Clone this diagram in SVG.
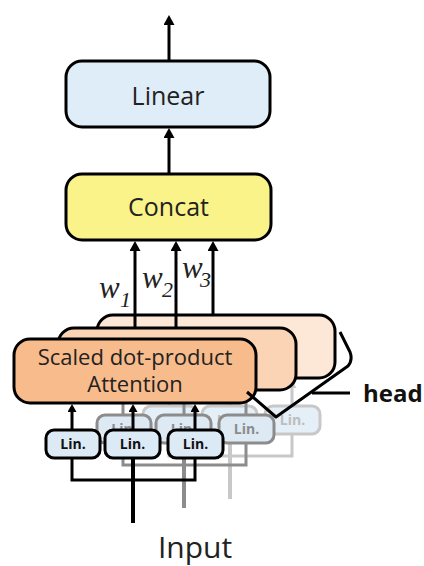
<svg xmlns="http://www.w3.org/2000/svg" width="424" height="566" viewBox="0 0 424 566">
  <style>
    .sans{font-family:"Open Sans","Noto Sans",sans-serif}
    .box{stroke:#000;stroke-width:3}
    .linear{fill:#deedf8}
    .concat{fill:#faf38a}
    .att0{fill:#f8bb8c}
    .att1{fill:#fbd4b5}
    .att2{fill:#fde7d7}
    .big{font-size:25px;fill:#222}
    .att-text{font-size:22px;fill:#222}
    .lin rect{stroke-width:3}
    .lin text{font-size:14px;font-weight:bold;text-anchor:middle}
    .h0 rect{fill:#dceaf6;stroke:#000}
    .h0 text{fill:#111}
    .h1 rect{fill:#dde9f3;stroke:#8c8c8c}
    .h1 text{fill:#8c8c8c}
    .h2 rect{fill:#e5eff7;stroke:#c8c8c8}
    .h2 text{fill:#bdbdbd}
    .wire{fill:none;stroke-width:3}
    .h0 .wire{stroke:#000}
    .h1 .wire{stroke:#8c8c8c}
    .h2 .wire{stroke:#c8c8c8}
    .thick{stroke-width:4}
    .w{font-family:"Liberation Serif","Times New Roman",serif;font-style:italic;fill:#222}
  </style>
  <defs>
    <marker id="ah" markerUnits="userSpaceOnUse" markerWidth="10" markerHeight="11" refX="0" refY="5.5" orient="auto">
      <path d="M0,0 L10,5.5 L0,11 z" fill="#000"/>
    </marker>
    <marker id="ahs" markerUnits="userSpaceOnUse" markerWidth="8" markerHeight="9" refX="0" refY="4.5" orient="auto">
      <path d="M0,0 L8,4.5 L0,9 z" fill="#000"/>
    </marker>
    <marker id="ahs1" markerUnits="userSpaceOnUse" markerWidth="8" markerHeight="9" refX="0" refY="4.5" orient="auto">
      <path d="M0,0 L8,4.5 L0,9 z" fill="#8c8c8c"/>
    </marker>
    <marker id="ahs2" markerUnits="userSpaceOnUse" markerWidth="8" markerHeight="9" refX="0" refY="4.5" orient="auto">
      <path d="M0,0 L8,4.5 L0,9 z" fill="#c8c8c8"/>
    </marker>
  </defs>

  <!-- third head: projections -->
  <g id="head-3-proj" class="h2" transform="translate(97,-24)">
    <path class="wire" d="M72,430 V412" marker-end="url(#ahs2)"/>
    <path class="wire" d="M133,430 V412" marker-end="url(#ahs2)"/>
    <path class="wire" d="M195,430 V412" marker-end="url(#ahs2)"/>
    <path class="wire" d="M72,458 V480 H195 V458"/>
    <path class="wire thick" d="M133,458 V523"/>
    <g class="lin sans">
      <rect x="46" y="430" width="54" height="28" rx="8"/><text x="73" y="449">Lin.</text>
      <rect x="105" y="430" width="55" height="28" rx="8"/><text x="132.5" y="449">Lin.</text>
      <rect x="168" y="430" width="55" height="28" rx="8"/><text x="195.5" y="449">Lin.</text>
    </g>
  </g>
  <!-- third head: attention -->
  <g id="head-3">
    <rect class="box att2" x="97" y="315" width="238" height="63" rx="16"/>
  </g>

  <!-- second head: projections -->
  <g id="head-2-proj" class="h1" transform="translate(51,-15)">
    <path class="wire" d="M72,430 V412" marker-end="url(#ahs1)"/>
    <path class="wire" d="M133,430 V412" marker-end="url(#ahs1)"/>
    <path class="wire" d="M195,430 V412" marker-end="url(#ahs1)"/>
    <path class="wire" d="M72,458 V480 H195 V458"/>
    <path class="wire thick" d="M133,458 V523"/>
    <g class="lin sans">
      <rect x="46" y="430" width="54" height="28" rx="8"/><text x="73" y="449">Lin.</text>
      <rect x="105" y="430" width="55" height="28" rx="8"/><text x="132.5" y="449">Lin.</text>
      <rect x="168" y="430" width="55" height="28" rx="8"/><text x="195.5" y="449">Lin.</text>
    </g>
  </g>
  <!-- second head: attention -->
  <g id="head-2">
    <rect class="box att1" x="58" y="328" width="238" height="62" rx="16"/>
  </g>

  <!-- first head: linear projections -->
  <g class="h0 lin sans">
    <g id="lin-1"><rect x="46" y="430" width="54" height="28" rx="8"/><text x="73" y="449">Lin.</text></g>
    <g id="lin-2"><rect x="105" y="430" width="55" height="28" rx="8"/><text x="132.5" y="449">Lin.</text></g>
    <g id="lin-3"><rect x="168" y="430" width="55" height="28" rx="8"/><text x="195.5" y="449">Lin.</text></g>
  </g>

  <!-- first head: attention -->
  <g id="attention">
    <rect class="box att0" x="14" y="339" width="242" height="64" rx="16"/>
    <text class="sans att-text" x="135" y="365" text-anchor="middle">Scaled dot-product</text>
    <text class="sans att-text" x="135" y="392" text-anchor="middle">Attention</text>
  </g>

  <g id="concat">
    <rect class="box concat" x="66" y="174" width="205" height="66" rx="16"/>
    <text class="sans big" x="168.5" y="216" text-anchor="middle">Concat</text>
  </g>

  <g id="linear">
    <rect class="box linear" x="66" y="61" width="204" height="66" rx="16"/>
    <text class="sans big" x="168" y="105" text-anchor="middle">Linear</text>
  </g>

  <!-- connectors -->
  <g id="connectors" class="h0">
    <path class="wire" d="M169,61 V25" marker-end="url(#ah)"/>
    <path class="wire" d="M169,174 V138" marker-end="url(#ah)"/>
    <path class="wire" d="M135,328 V251" marker-end="url(#ah)"/>
    <path class="wire" d="M176,328 V251" marker-end="url(#ah)"/>
    <path class="wire" d="M213,316 V251" marker-end="url(#ah)"/>
    <path class="wire" d="M72,430 V412" marker-end="url(#ahs)"/>
    <path class="wire" d="M133,430 V412" marker-end="url(#ahs)"/>
    <path class="wire" d="M195,430 V412" marker-end="url(#ahs)"/>
    <path class="wire" d="M72,458 V480 H195 V458"/>
    <path class="wire thick" d="M133,458 V523"/>
  </g>

  <!-- head weights -->
  <g id="weights">
    <text class="w" x="99" y="298" font-size="31">w</text><text class="w" x="120" y="307" font-size="22">1</text>
    <text class="w" x="142" y="288" font-size="31">w</text><text class="w" x="162" y="297" font-size="22">2</text>
    <text class="w" x="182" y="278" font-size="31">w</text><text class="w" x="200" y="287" font-size="22">3</text>
  </g>

  <!-- bracket over the stacked heads -->
  <g id="head-label">
    <path d="M340,332 L350,352 Q353,360 348,366 L276,417 L247,392" fill="none" stroke="#000" stroke-width="3" stroke-linejoin="round"/>
    <path d="M312,393 H350" fill="none" stroke="#000" stroke-width="3"/>
    <text class="sans" x="363" y="402" font-size="24" font-weight="bold" fill="#111">head</text>
  </g>

  <g id="input">
    <text class="sans" x="195" y="558" font-size="30" text-anchor="middle" fill="#222">Input</text>
  </g>
</svg>
